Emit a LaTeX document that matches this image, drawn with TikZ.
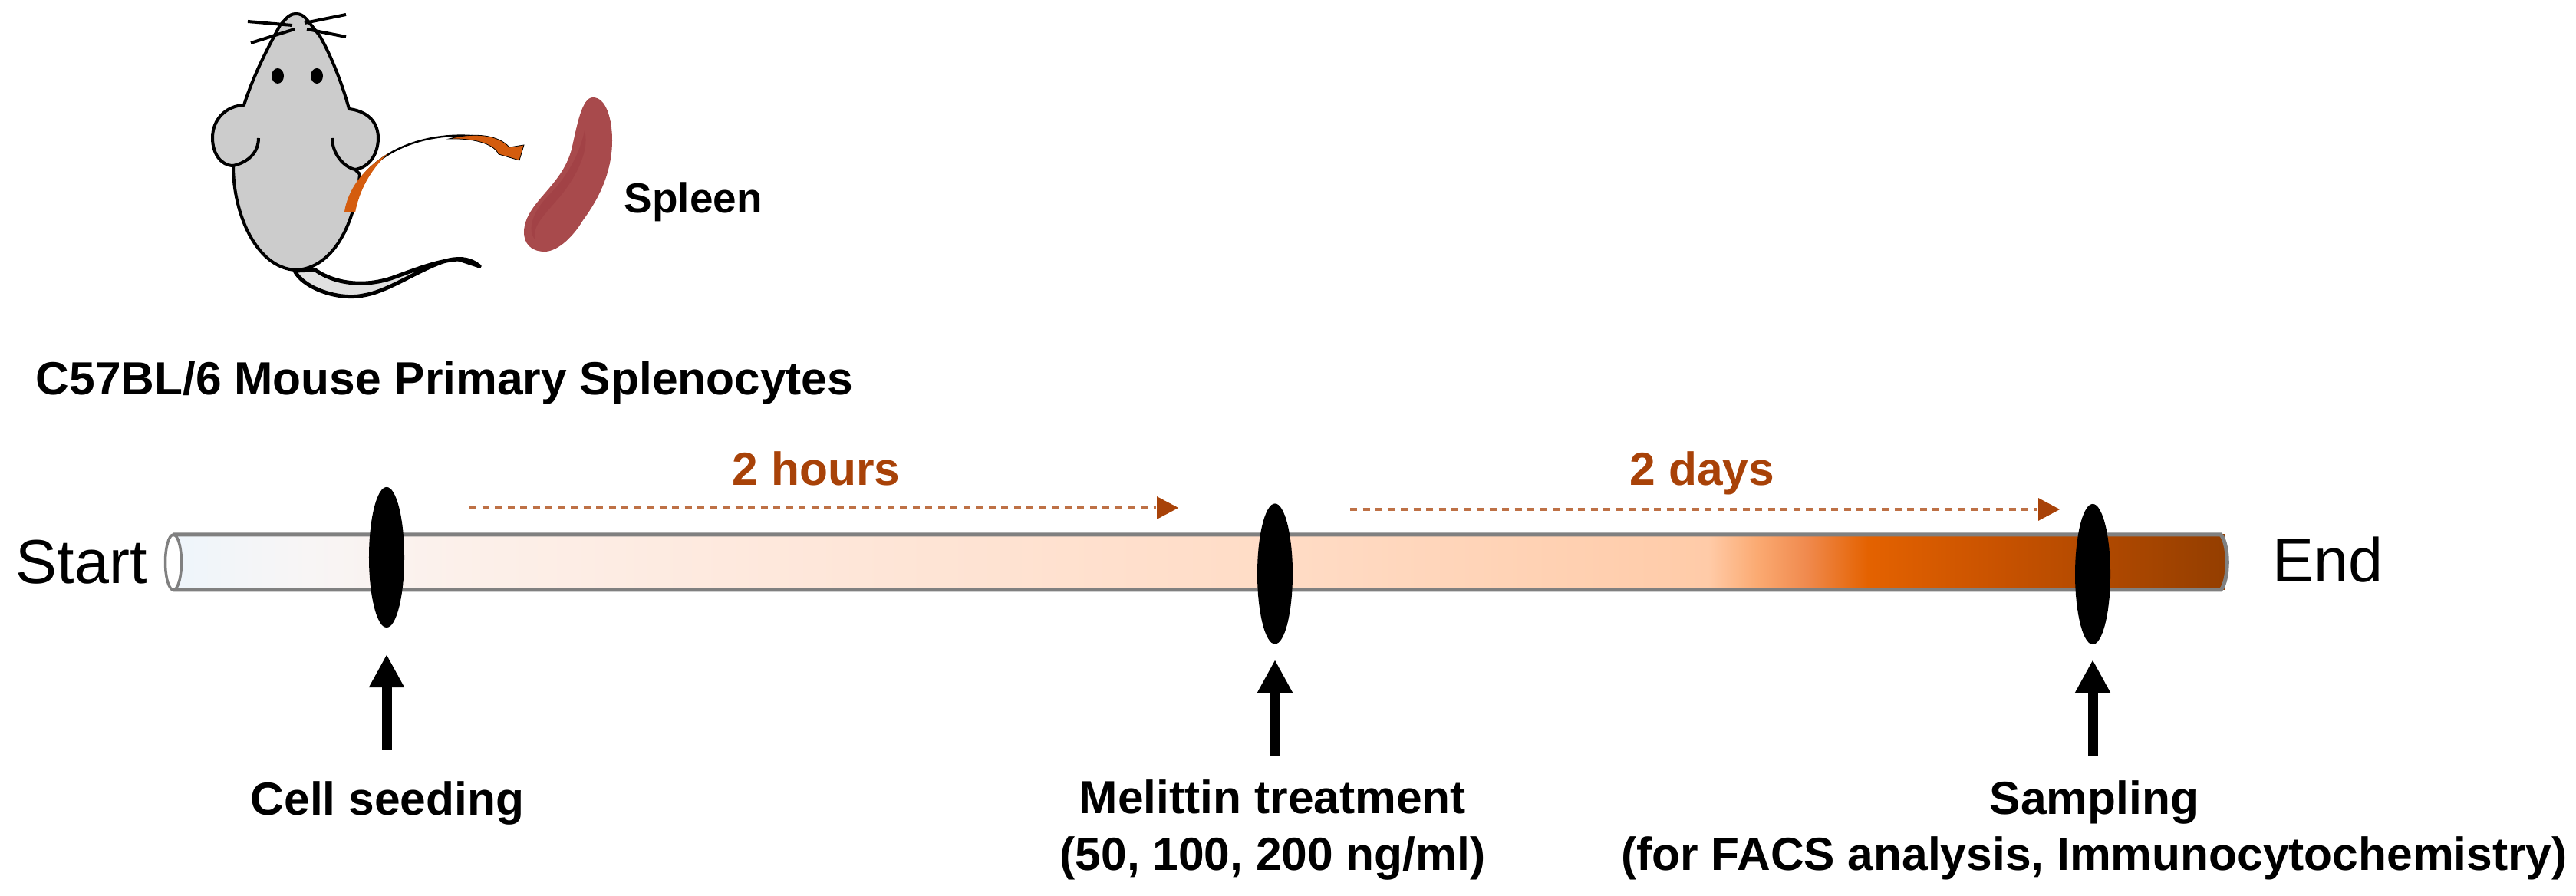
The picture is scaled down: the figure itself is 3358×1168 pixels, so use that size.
\documentclass[tikz,border=0pt]{standalone}
\usepackage{fontspec}
\setmainfont{Liberation Sans}
\usetikzlibrary{positioning, arrows.meta, shapes.geometric}

\definecolor{brownlabel}{RGB}{168,66,8}
\definecolor{spleenred}{RGB}{168,74,76}
\definecolor{spleendark}{RGB}{162,66,70}
\definecolor{mousegray}{RGB}{204,204,204}
\definecolor{cutorange}{RGB}{212,92,14}
\definecolor{tubeline}{RGB}{128,128,128}
\definecolor{tubeA}{RGB}{238,245,251}
\definecolor{tubeB}{RGB}{248,245,245}
\definecolor{tubeC}{RGB}{252,240,234}
\definecolor{tubeD}{RGB}{254,232,220}
\definecolor{tubeE}{RGB}{255,220,198}
\definecolor{tubeF}{RGB}{255,203,168}
\definecolor{tubeG}{RGB}{251,170,114}
\definecolor{tubeH}{RGB}{240,138,78}
\definecolor{tubeI}{RGB}{228,98,0}
\definecolor{tubeJ}{RGB}{200,82,0}
\definecolor{tubeK}{RGB}{148,62,0}
\pgfdeclarehorizontalshading{tubefade}{100bp}{
	color(0bp)=(tubeA); color(25bp)=(tubeA); color(28.3bp)=(tubeB);
	color(32bp)=(tubeC); color(39.5bp)=(tubeD); color(51.8bp)=(tubeE);
	color(62.4bp)=(tubeF); color(63.6bp)=(tubeG); color(64.8bp)=(tubeH);
	color(66.3bp)=(tubeI); color(69.5bp)=(tubeJ); color(75bp)=(tubeK);
	color(100bp)=(tubeK)}

\begin{document}
\begin{tikzpicture}[x=0.01cm, y=-0.01cm]
	\tikzset{
	boldlabel/.style={font=\bfseries\fontsize{17.2}{20.8}\selectfont, align=center, inner sep=0pt}, % labels under the tube
	timelabel/.style={font=\bfseries\fontsize{17.2}{20.8}\selectfont, text=brownlabel, inner sep=0pt},
	endlabel/.style={font=\fontsize{23}{27}\selectfont, inner sep=0pt},
	marker/.style={ellipse, fill=black, inner sep=0pt, minimum width=0.46cm, minimum height=1.83cm},
	steparrow/.style={-{Triangle[width=0.43cm, length=0.43cm]}, line width=0.13cm},
	timedash/.style={brownlabel!75!white, dash pattern=on 0.09cm off 0.075cm, line width=0.035cm},
	timetip/.style={fill=brownlabel, inner sep=0pt, isosceles triangle, isosceles triangle apex angle=56, minimum height=0.28cm},
	mouseline/.style={draw=black, line width=0.04cm, line join=round}
	}
	\useasboundingbox (0,0) rectangle (3358,1168);

	% tube
	\fill[shading=tubefade] (226,697) rectangle (2900,769);
	\filldraw[draw=tubeline, fill=white, line width=0.035cm] (226,733) ellipse[x radius=10.5, y radius=36];
	\draw[draw=tubeline, line width=0.05cm] (226,697) -- (2895,697) .. controls (2906,710) and (2906,756) .. (2895,769) -- (226,769);

	% markers
	\node[marker] (seed) at (504,726.5) {};
	\node[marker] (treat) at (1662,748) {};
	\node[marker] (sample) at (2728,748.5) {};

	% arrows to the markers
	\coordinate (seedfoot) at (504,978);
	\coordinate (treatfoot) at (1662,986);
	\coordinate (samplefoot) at (2728,986);
	\coordinate (seedtip) at (504,853);
	\coordinate (treattip) at (1662,860);
	\coordinate (sampletip) at (2728,860);
	\draw[steparrow] (seedfoot) -- (seedtip);
	\draw[steparrow] (treatfoot) -- (treattip);
	\draw[steparrow] (samplefoot) -- (sampletip);

	% end labels
	\node[endlabel, anchor=base west] (start) at (20,761) {Start};
	\node[endlabel, anchor=base west] (end) at (2962,759) {End};

	% bottom labels
	\node[boldlabel, anchor=base] (seedtext) at (505,1063) {Cell seeding};
	\node[boldlabel] (treattext) at (1659,1082) {Melittin treatment\\(50, 100, 200 ng/ml)};
	\node[boldlabel] (sampletext) at (2730,1082) {Sampling\\(for FACS analysis, Immunocytochemistry)};

	% time spans
	\node[timetip] (hourstip) at (1517,662) {};
	\node[timetip] (daystip) at (2666,664) {};
	\coordinate (hoursfrom) at (612,662);
	\coordinate (daysfrom) at (1760,664);
	\draw[timedash] (hoursfrom) -- (hourstip.west);
	\draw[timedash] (daysfrom) -- (daystip.west);
	\node[timelabel, anchor=base] (hours) at (1064,633) {2 hours};
	\node[timelabel, anchor=base] (days) at (2219,633) {2 days};

	% mouse
	\filldraw[mouseline, line width=0.05cm, fill=mousegray!60!white] (384,353) .. controls (395,375) and (440,392) .. (474,385) .. controls (505,380) and (540,355) .. (575,342) .. controls (595,335) and (612,336) .. (625,347) .. controls (612,340) and (605,338) .. (597,338) .. controls (570,340) and (540,352) .. (515,361) .. controls (480,374) and (440,372) .. (411,352) -- cycle;
	\draw[line width=0.05cm, line cap=round] (598,338) -- (625,347);
	\filldraw[mouseline, fill=mousegray] (386,18) .. controls (376,18) and (372,26) .. (365,33)
		.. controls (345,70) and (330,100) .. (318,137)
		.. controls (295,138) and (277,155) .. (277,180) .. controls (277,200) and (288,216) .. (304,216)
		.. controls (304,280) and (335,350) .. (386,352)
		.. controls (430,350) and (462,300) .. (469,227)
		-- (463,221) .. controls (482,218) and (493,200) .. (493,180) .. controls (493,160) and (480,145) .. (455,142)
		.. controls (445,105) and (430,70) .. (417,47) -- (406,33) .. controls (400,26) and (396,18) .. (386,18) -- cycle;
	\draw[mouseline] (304,216) .. controls (322,212) and (337,200) .. (337,180);
	\draw[mouseline] (433,180) .. controls (433,200) and (448,218) .. (463,221);
	\fill (362,99) ellipse[x radius=8, y radius=10];
	\fill (413,99) ellipse[x radius=8, y radius=10];
	\draw[mouseline] (323,28) -- (381,33) (327,56) -- (384,38) (451,19) -- (397,30) (451,48) -- (400,38);

	% cut arrow
	\draw[line width=0.025cm] (466,240) .. controls (490,200) and (550,170) .. (625,178);
	\fill[cutorange] (449,276) .. controls (453,250) and (470,222) .. (506,200) .. controls (482,222) and (468,250) .. (463,277) -- cycle;
	\filldraw[draw=black, line width=0.008cm, fill=cutorange] (585,181) .. controls (620,172) and (650,176) .. (664,192) -- (683,189) -- (677,209) -- (650,201) .. controls (645,190) and (625,180) .. (585,181) -- cycle;

	% spleen
	\fill[spleenred] (773,127) .. controls (790,127) and (798,155) .. (798,183) .. controls (798,225) and (780,260) .. (760,287) .. controls (745,312) and (725,328) .. (710,328) .. controls (690,328) and (683,315) .. (683,303) .. controls (683,285) and (695,270) .. (705,258) .. controls (725,235) and (738,220) .. (745,195) .. controls (752,165) and (758,127) .. (773,127) -- cycle;
	\fill[spleendark] (762,170) .. controls (770,200) and (745,240) .. (725,262) .. controls (705,285) and (695,295) .. (697,312) .. controls (685,295) and (700,270) .. (715,255) .. controls (735,235) and (755,205) .. (762,170) -- cycle;
	\node[boldlabel, font=\bfseries\fontsize{15.6}{19}\selectfont, anchor=base west] (spleen) at (813,278) {Spleen};

	% title
	\node[boldlabel, anchor=base west] (title) at (46,515) {C57BL/6 Mouse Primary Splenocytes};
\end{tikzpicture}
\end{document}
